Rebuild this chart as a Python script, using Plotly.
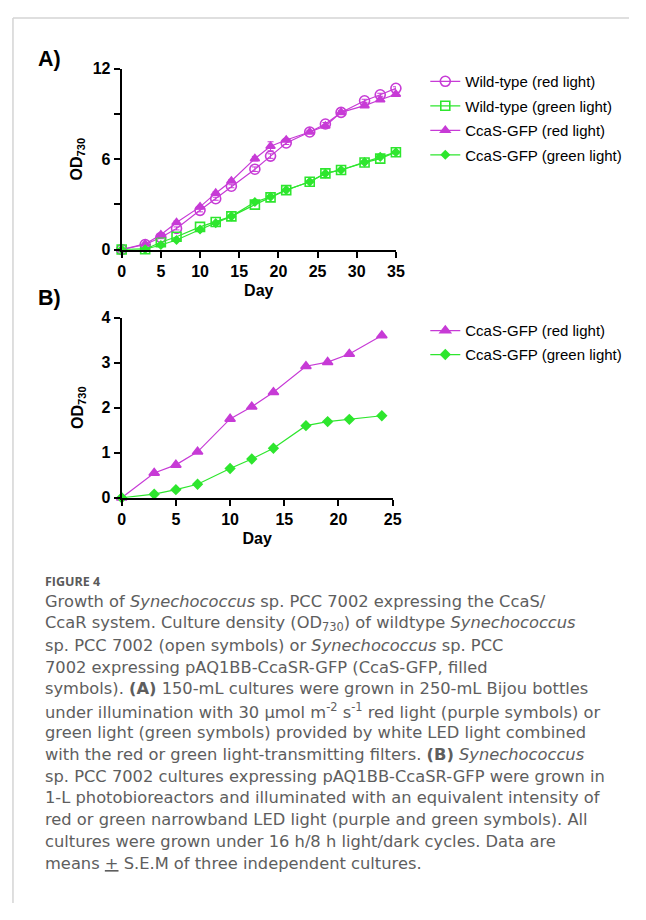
import plotly.graph_objects as go

# page has default 8px body margin -> draw a 630x904 figure placed at (8, 8)
W, H = 630, 904
OX, OY = 8, 8
def fx(px): return (px - OX) / W
def fy(py): return 1 - (py - OY) / H

PURPLE = "#C73BD6"
GREEN = "#2EE62E"

# ---- Panel A data ----
days_a = [0, 3, 5, 7, 10, 12, 14, 17, 19, 21, 24, 26, 28, 31, 33, 35]
wt_red = [0, 0.33, 0.8, 1.4, 2.6, 3.37, 4.2, 5.33, 6.2, 7.07, 7.8, 8.33, 9.1, 9.87, 10.27, 10.7]
wt_green = [0, 0.02, 0.48, 0.85, 1.5, 1.83, 2.2, 2.98, 3.46, 3.94, 4.5, 5.05, 5.28, 5.77, 6.03, 6.46]
ccas_red_a = [0, 0.37, 0.98, 1.79, 2.83, 3.74, 4.55, 6.03, 6.85, 7.27, 7.8, 8.2, 9.1, 9.55, 9.94, 10.3]
ccas_green_a = [0, 0.02, 0.3, 0.63, 1.33, 1.75, 2.2, 3.15, 3.5, 3.95, 4.5, 5.05, 5.28, 5.8, 6.15, 6.46]
err_wt_red = [0, 0.05, 0.08, 0.1, 0.1, 0.1, 0.1, 0.15, 0.15, 0.1, 0.1, 0.1, 0.1, 0.1, 0.1, 0.1]
err_ccas_red_a = [0, 0.05, 0.08, 0.1, 0.1, 0.1, 0.1, 0.15, 0.3, 0.1, 0.1, 0.1, 0.1, 0.1, 0.1, 0.1]

# ---- Panel B data ----
days_b = [0, 3, 5, 7, 10, 12, 14, 17, 19, 21, 24]
ccas_red_b = [0, 0.55, 0.73, 1.02, 1.75, 2.02, 2.34, 2.92, 3.01, 3.19, 3.6]
ccas_green_b = [0, 0.08, 0.18, 0.3, 0.65, 0.86, 1.1, 1.6, 1.69, 1.74, 1.82]

ticks_a_x = [0, 5, 10, 15, 20, 25, 30, 35]
ticks_a_y = [0, 6, 12]
ticks_b_x = [0, 5, 10, 15, 20, 25]
ticks_b_y = [0, 1, 2, 3, 4]

AX_FONT = "Liberation Sans, Arial, sans-serif"

fig = go.Figure()

def add(x, y, name, color, symbol, size, xa, ya, legend, err=None):
    tr = dict(x=x, y=y, name=name, mode="lines+markers",
              line=dict(color=color, width=1.2),
              marker=dict(symbol=symbol, size=size, color=color,
                          line=dict(color=color, width=1.6)),
              xaxis=xa, yaxis=ya, legend=legend, legendgroup=name,
              cliponaxis=False)
    if err is not None:
        tr["error_y"] = dict(type="data", array=err, visible=True,
                             color=color, thickness=1, width=3)
    fig.add_trace(go.Scatter(**tr))

add(days_a, wt_red, "Wild-type (red light)", PURPLE, "circle-open", 10, "x", "y", "legend", err_wt_red)
add(days_a, wt_green, "Wild-type (green light)", GREEN, "square-open", 9, "x", "y", "legend")
add(days_a, ccas_red_a, "CcaS-GFP (red light)", PURPLE, "triangle-up", 8, "x", "y", "legend", err_ccas_red_a)
add(days_a, ccas_green_a, "CcaS-GFP (green light)", GREEN, "diamond", 6, "x", "y", "legend")

add(days_b, ccas_red_b, "CcaS-GFP (red light)", PURPLE, "triangle-up", 9, "x2", "y2", "legend2")
add(days_b, ccas_green_b, "CcaS-GFP (green light)", GREEN, "diamond", 7, "x2", "y2", "legend2")

TICKFONT = dict(family=AX_FONT, size=16, color="black", weight="bold")
TITLEFONT = dict(family=AX_FONT, size=16, color="black")
axis_common = dict(showline=True, linewidth=2, linecolor="black", ticks="outside",
                   ticklen=6, tickwidth=2, tickcolor="black", showgrid=False,
                   zeroline=False, mirror=False, tickfont=TICKFONT)

fig.update_layout(
    width=W, height=H, margin=dict(l=0, r=0, t=0, b=0),
    paper_bgcolor="white", plot_bgcolor="white",
    xaxis=dict(domain=[fx(120), fx(400)], range=[0, 35], tickvals=ticks_a_x, anchor="y",
               title=dict(text="<b>Day</b>", font=TITLEFONT, standoff=6),
               **axis_common),
    yaxis=dict(domain=[fy(246), fy(61.7)], range=[0, 12], tickvals=ticks_a_y, anchor="x",
               minor=dict(tickvals=[3, 9], ticks="outside", ticklen=6, tickwidth=2, tickcolor="black"),
               title=dict(text="<b>OD<sub>730</sub></b>", font=TITLEFONT, standoff=6),
               **axis_common),
    xaxis2=dict(domain=[fx(120), fx(396.7)], range=[0, 25], tickvals=ticks_b_x, anchor="y2",
                title=dict(text="<b>Day</b>", font=TITLEFONT, standoff=6),
                **axis_common),
    yaxis2=dict(domain=[fy(499), fy(315.3)], range=[0, 4], tickvals=ticks_b_y, anchor="x2",
                title=dict(text="<b>OD<sub>730</sub></b>", font=TITLEFONT, standoff=14),
                **axis_common),
    legend=dict(x=fx(430), y=fy(58), xanchor="left", yanchor="top",
                font=dict(family=AX_FONT, size=15, color="black"),
                tracegroupgap=2, bgcolor="rgba(0,0,0,0)"),
    legend2=dict(x=fx(430), y=fy(312), xanchor="left", yanchor="top",
                 font=dict(family=AX_FONT, size=15, color="black"),
                 tracegroupgap=1.5, bgcolor="rgba(0,0,0,0)"),
    showlegend=True,
)

# border lines
fig.add_shape(type="line", xref="paper", yref="paper", x0=fx(9), x1=1, y0=fy(10), y1=fy(10),
              line=dict(color="#d4d4d4", width=1.5))
fig.add_shape(type="line", xref="paper", yref="paper", x0=fx(9), x1=fx(9), y0=fy(10), y1=0,
              line=dict(color="#d4d4d4", width=1.5))

# panel labels
for txt, py in [("A)", 52), ("B)", 295)]:
    fig.add_annotation(text=f"<b>{txt}</b>", x=fx(32), y=fy(py), xref="paper", yref="paper",
                       xanchor="left", yanchor="middle", showarrow=False,
                       font=dict(family=AX_FONT, size=21.5, color="black"))

# caption
CAP_FONT = "DejaVu Sans, sans-serif"
CAP_X = 40
fig.add_annotation(text="<b>FIGURE 4</b>", x=fx(CAP_X), y=fy(584), xref="paper", yref="paper",
                   xanchor="left", yanchor="middle", showarrow=False,
                   font=dict(family="Open Sans, sans-serif", size=12.5, color="#5a5a5a"))
cap_lines = [
    "Growth of <i>Synechococcus</i> sp. PCC 7002 expressing the CcaS/",
    "CcaR system. Culture density (OD<sub>730</sub>) of wildtype <i>Synechococcus</i>",
    "sp. PCC 7002 (open symbols) or <i>Synechococcus</i> sp. PCC",
    "7002 expressing pAQ1BB-CcaSR-GFP (CcaS-GFP, filled",
    "symbols). <b>(A)</b> 150-mL cultures were grown in 250-mL Bijou bottles",
    "under illumination with 30 μmol m<sup>-2</sup> s<sup>-1</sup> red light (purple symbols) or",
    "green light (green symbols) provided by white LED light combined",
    "with the red or green light-transmitting filters. <b>(B)</b> <i>Synechococcus</i>",
    "sp. PCC 7002 cultures expressing pAQ1BB-CcaSR-GFP were grown in",
    "1-L photobioreactors and illuminated with an equivalent intensity of",
    "red or green narrowband LED light (purple and green symbols). All",
    "cultures were grown under 16 h/8 h light/dark cycles. Data are",
    "means <u>+</u> S.E.M of three independent cultures.",
]
for i, line in enumerate(cap_lines):
    fig.add_annotation(text=line, x=fx(CAP_X), y=fy(605 + i * 22.2), xref="paper", yref="paper",
                       xanchor="left", yanchor="middle", showarrow=False,
                       font=dict(family=CAP_FONT, size=16.3, color="#5e5e5e"))

fig.write_html("out.html", config={"displayModeBar": False})
